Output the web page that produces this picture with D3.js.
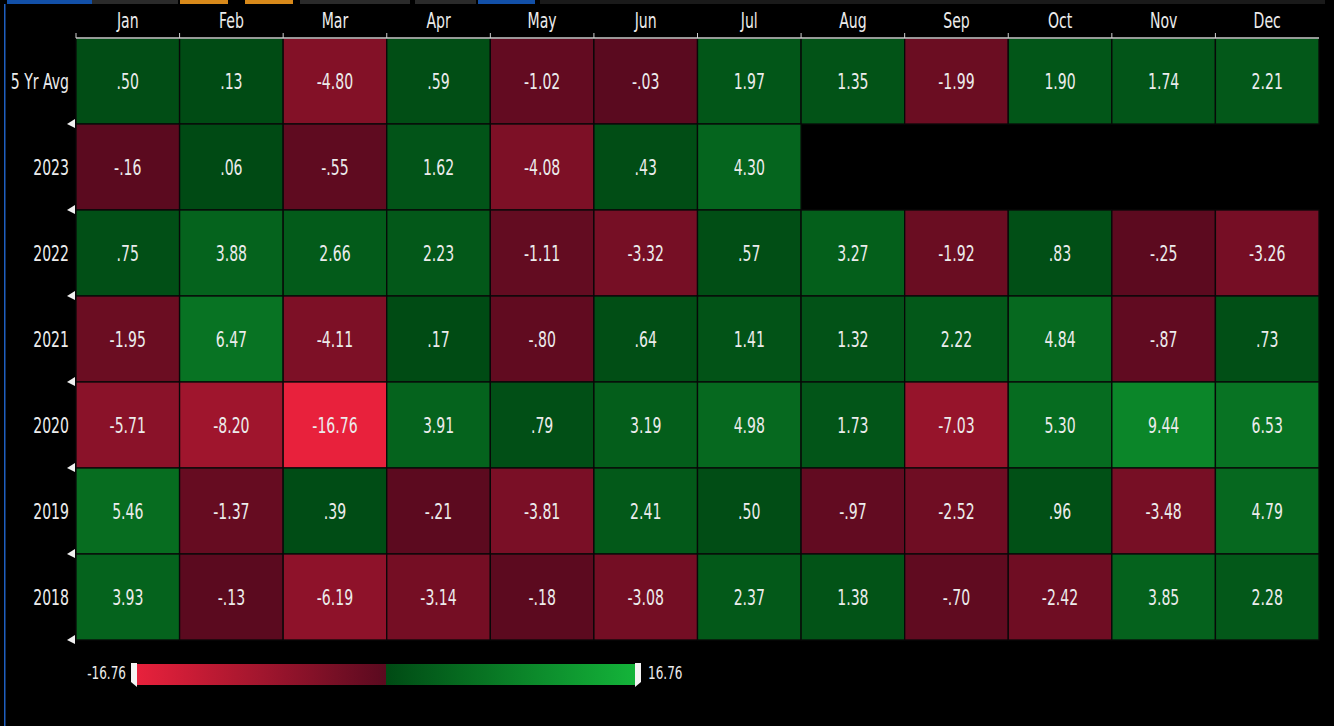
<!DOCTYPE html>
<html>
<head>
<meta charset="utf-8">
<script src="https://cdn.jsdelivr.net/npm/d3@7"></script>
<style>
  html, body { margin: 0; padding: 0; background: #000; }
  svg { display: block; }
  text { font-family: "DejaVu Sans", sans-serif; fill: #ececec; }
</style>
</head>
<body>
<svg id="chart" width="1334" height="726"></svg>
<script>
// data
let months = ['Jan','Feb','Mar','Apr','May','Jun','Jul','Aug','Sep','Oct','Nov','Dec'];
let rowNames = ['5 Yr Avg','2023','2022','2021','2020','2019','2018'];
let avg5  = [0.50, 0.13, -4.80, 0.59, -1.02, -0.03, 1.97, 1.35, -1.99, 1.90, 1.74, 2.21];
let y2023 = [-0.16, 0.06, -0.55, 1.62, -4.08, 0.43, 4.30, null, null, null, null, null];
let y2022 = [0.75, 3.88, 2.66, 2.23, -1.11, -3.32, 0.57, 3.27, -1.92, 0.83, -0.25, -3.26];
let y2021 = [-1.95, 6.47, -4.11, 0.17, -0.80, 0.64, 1.41, 1.32, 2.22, 4.84, -0.87, 0.73];
let y2020 = [-5.71, -8.20, -16.76, 3.91, 0.79, 3.19, 4.98, 1.73, -7.03, 5.30, 9.44, 6.53];
let y2019 = [5.46, -1.37, 0.39, -0.21, -3.81, 2.41, 0.50, -0.97, -2.52, 0.96, -3.48, 4.79];
let y2018 = [3.93, -0.13, -6.19, -3.14, -0.18, -3.08, 2.37, 1.38, -0.70, -2.42, 3.85, 2.28];
let rows = [avg5, y2023, y2022, y2021, y2020, y2019, y2018];
let extent = 16.76;

let svg = d3.select('#chart');
let squeeze = 0.67; // the terminal font is very narrow

// flatten into cells
let cells = [];
rows.forEach((vals, r) => {
  vals.forEach((v, c) => {
    if (v !== null) cells.push({row: rowNames[r], month: months[c], value: v});
  });
});

let x = d3.scaleBand().domain(months).range([76, 1319]);
let y = d3.scaleBand().domain(rowNames).range([38, 640]);

let redScale = d3.scaleLinear().domain([-extent, 0]).range(['#e8213c', '#5a0a1f']);
let greenScale = d3.scaleLinear().domain([0, extent]).range(['#004a14', '#14b43a']);
let color = v => v < 0 ? redScale(v) : greenScale(v);

let place = (px, py) => `translate(${px},${py}) scale(${squeeze},1)`;

// top strip of the terminal window
let strip = [[7, 92, '#1250a8'], [92, 178, '#2a2a2a'], [180, 228, '#d8891a'], [245, 293, '#d8891a'],
             [300, 410, '#2a2a2a'], [415, 476, '#2a2a2a'], [478, 535, '#1250a8'], [540, 1325, '#1a1a1a']];
svg.selectAll('rect.strip').data(strip).enter().append('rect')
  .attr('class', 'strip')
  .attr('x', d => d[0]).attr('y', 0).attr('width', d => d[1] - d[0]).attr('height', 4)
  .attr('fill', d => d[2]);
svg.append('rect').attr('x', 4).attr('y', 4).attr('width', 1.5).attr('height', 722).attr('fill', '#1f5fbf');

// cells
svg.selectAll('rect.cell')
  .data(cells)
  .enter()
  .append('rect')
  .attr('class', 'cell')
  .attr('x', d => x(d.month))
  .attr('y', d => y(d.row))
  .attr('width', x.bandwidth())
  .attr('height', y.bandwidth())
  .attr('fill', d => color(d.value))
  .attr('stroke', '#080808')
  .attr('stroke-width', 1.3);

let fmt = v => {
  let s = Math.abs(v).toFixed(2);
  if (s.startsWith('0')) s = s.slice(1);
  return (v < 0 ? '-' : '') + s;
};

svg.selectAll('text.val')
  .data(cells)
  .enter()
  .append('text')
  .attr('class', 'val')
  .attr('transform', d => place(x(d.month) + x.bandwidth() / 2, y(d.row) + y.bandwidth() / 2))
  .attr('dy', '0.36em')
  .attr('text-anchor', 'middle')
  .style('font-size', '21px')
  .text(d => fmt(d.value));

// header axis
let xAxis = svg.append('g');
xAxis.append('line')
  .attr('x1', 76).attr('x2', 1319).attr('y1', 38).attr('y2', 38)
  .attr('stroke', '#c8c8c8').attr('stroke-width', 1.5);
xAxis.selectAll('line.tick')
  .data(months)
  .enter()
  .append('line')
  .attr('class', 'tick')
  .attr('x1', d => x(d)).attr('x2', d => x(d))
  .attr('y1', 33).attr('y2', 38)
  .attr('stroke', '#d0d0d0');
xAxis.selectAll('text')
  .data(months)
  .enter()
  .append('text')
  .attr('transform', d => place(x(d) + x.bandwidth() / 2, 20))
  .attr('dy', '0.36em')
  .attr('text-anchor', 'middle')
  .style('font-size', '21px')
  .text(d => d);

// row labels and little white markers
svg.selectAll('text.row')
  .data(rowNames)
  .enter()
  .append('text')
  .attr('class', 'row')
  .attr('transform', d => place(69, y(d) + y.bandwidth() / 2))
  .attr('dy', '0.36em')
  .attr('text-anchor', 'end')
  .style('font-size', '21px')
  .text(d => d);
svg.selectAll('path.marker')
  .data(rowNames)
  .enter()
  .append('path')
  .attr('class', 'marker')
  .attr('d', d => {
    let yy = y(d) + y.bandwidth();
    return `M67,${yy}L75,${yy - 5}L75,${yy + 4}Z`;
  })
  .attr('fill', '#f0f0f0');

// legend
let lx = d3.scaleLinear().domain([-extent, extent]).range([137, 635]);
let defs = svg.append('defs');
let grad = defs.append('linearGradient').attr('id', 'lg').attr('x1', '0%').attr('x2', '100%');
let stops = d3.range(-extent, extent + 0.001, extent / 10);
stops.forEach(v => {
  let off = (v + extent) / (2 * extent) * 100;
  if (Math.abs(v) < 1e-6) {
    grad.append('stop').attr('offset', off + '%').attr('stop-color', redScale(0));
    grad.append('stop').attr('offset', off + '%').attr('stop-color', greenScale(0));
  } else {
    grad.append('stop').attr('offset', off + '%').attr('stop-color', color(v));
  }
});
svg.append('rect')
  .attr('x', lx(-extent)).attr('y', 664)
  .attr('width', lx(extent) - lx(-extent)).attr('height', 21)
  .attr('fill', 'url(#lg)');
svg.append('path')
  .attr('d', `M${lx(-extent) - 6},663L${lx(-extent)},663L${lx(-extent)},687L${lx(-extent) - 6},682Z`)
  .attr('fill', '#f4f4f4');
svg.append('path')
  .attr('d', `M${lx(extent)},663L${lx(extent) + 6},663L${lx(extent) + 6},682L${lx(extent)},687Z`)
  .attr('fill', '#f4f4f4');
svg.append('text')
  .attr('transform', place(lx(-extent) - 11, 673))
  .attr('dy', '0.36em').attr('text-anchor', 'end')
  .style('font-size', '18px')
  .text('-' + extent.toFixed(2));
svg.append('text')
  .attr('transform', place(lx(extent) + 13, 673))
  .attr('dy', '0.36em').attr('text-anchor', 'start')
  .style('font-size', '18px')
  .text(extent.toFixed(2));
</script>
</body>
</html>
